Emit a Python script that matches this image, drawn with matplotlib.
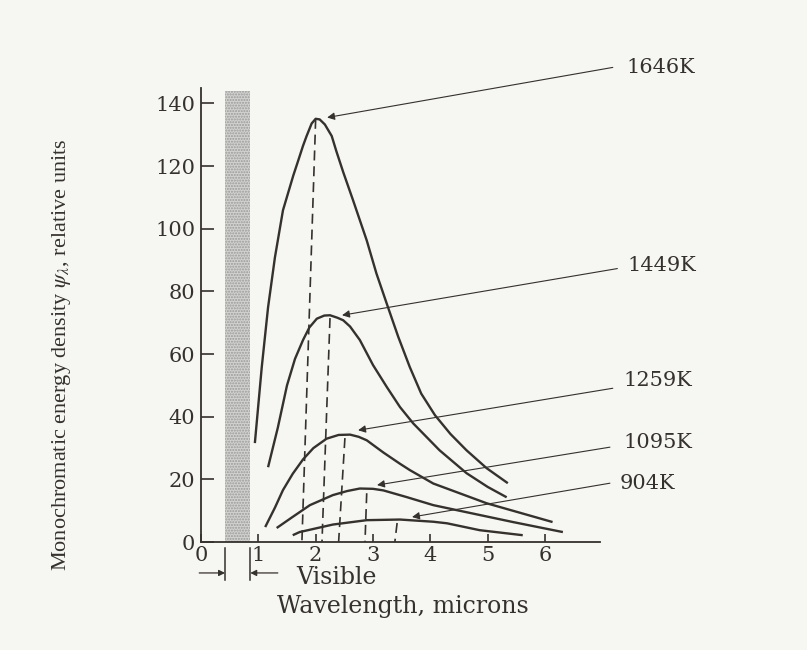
import matplotlib.pyplot as plt
import matplotlib.transforms as mtransforms

plt.rcParams["mathtext.fontset"] = "stix"

# curves (wavelength in microns, relative energy density)
temps = ["1646K", "1449K", "1259K", "1095K", "904K"]

x_1646 = [0.94, 1.06, 1.17, 1.29, 1.43, 1.61, 1.70, 1.78, 1.84, 1.93, 2.00, 2.07,
          2.16, 2.28, 2.36, 2.48, 2.65, 2.89, 3.06, 3.26, 3.44, 3.64, 3.84, 4.08,
          4.35, 4.63, 4.98, 5.35]
y_1646 = [31.6, 55.8, 74.9, 90.9, 105.9, 117.0, 122.0, 126.5, 129.5, 133.6, 135.1, 134.9,
          133.3, 129.6, 124.8, 118.1, 109.2, 96.3, 85.7, 75.0, 65.5, 55.9, 47.4, 40.5,
          34.5, 29.3, 23.6, 18.8]

x_1449 = [1.17, 1.34, 1.50, 1.64, 1.78, 1.89, 2.02, 2.15, 2.25, 2.38, 2.48, 2.60,
          2.77, 3.00, 3.24, 3.47, 3.70, 4.16, 4.63, 5.00, 5.33]
y_1449 = [23.9, 36.5, 50.0, 58.5, 64.5, 68.5, 71.3, 72.3, 72.4, 71.6, 70.8, 68.8,
          64.5, 56.5, 49.5, 43.1, 37.9, 29.3, 22.0, 17.6, 14.3]

x_1259 = [1.12, 1.29, 1.43, 1.60, 1.78, 1.96, 2.19, 2.40, 2.60, 2.75, 2.89, 3.18,
          3.47, 3.64, 4.05, 4.98, 6.13]
y_1259 = [4.8, 11.0, 16.6, 21.8, 26.4, 30.0, 33.0, 34.2, 34.3, 33.6, 32.5, 28.6,
          25.0, 23.0, 18.7, 12.4, 6.4]

x_1095 = [1.32, 1.58, 1.90, 2.30, 2.55, 2.77, 3.00, 3.18, 3.58, 4.05, 4.46, 5.44, 6.31]
y_1095 = [4.5, 7.8, 11.8, 15.0, 16.3, 17.1, 17.0, 16.5, 14.4, 11.8, 10.2, 6.4, 3.2]

x_904 = [1.60, 1.72, 2.13, 2.30, 2.89, 3.47, 4.05, 4.29, 4.86, 5.61]
y_904 = [2.2, 3.2, 4.9, 5.6, 7.0, 7.2, 6.5, 6.0, 3.8, 2.2]

# dashed drop lines: top point near each peak, foot on the axis
drop_top_x = [2.00, 2.25, 2.51, 2.89, 3.42]
drop_top_y = [135.1, 71.5, 33.2, 15.6, 6.1]
drop_foot_x = [1.76, 2.11, 2.40, 2.86, 3.38]

# label leaders: arrow head on the curve, tail at the label
head_x = [2.20, 2.46, 2.74, 3.07, 3.68]
head_y = [135.5, 72.4, 35.7, 18.2, 8.0]
tail_x = [7.18, 7.26, 7.18, 7.13, 7.13]
tail_y = [151.5, 87.3, 49.1, 30.3, 18.8]
label_x = [7.42, 7.44, 7.37, 7.37, 7.30]
label_y = [151.5, 88.3, 51.7, 31.9, 18.8]

visible = (0.42, 0.86)
yticks = [0, 20, 40, 60, 80, 100, 120, 140]
xticks = [0, 1, 2, 3, 4, 5, 6]

ink = "#35312d"
paper = "#f6f6f3"

fig = plt.figure(figsize=(8.07, 6.5), dpi=100, facecolor=paper)
ax = fig.add_axes([0.249, 0.166, 0.494, 0.698])
ax.set_facecolor(paper)

ax.axvspan(visible[0], visible[1], ymin=0, ymax=0.995, facecolor="#d2d2d0",
           edgecolor="#9a9a98", hatch="......", linewidth=0, zorder=0)

for xs, ys in [(x_1646, y_1646), (x_1449, y_1449), (x_1259, y_1259),
               (x_1095, y_1095), (x_904, y_904)]:
    ax.plot(xs, ys, color=ink, lw=1.7, solid_joinstyle="round",
            solid_capstyle="butt", zorder=3)

for xt, yt, xf in zip(drop_top_x, drop_top_y, drop_foot_x):
    ax.plot([xt, xf], [yt, 0], color=ink, lw=1.2, dashes=(6, 3.5), zorder=2)

for i, name in enumerate(temps):
    ax.annotate("", xy=(head_x[i], head_y[i]), xytext=(tail_x[i], tail_y[i]),
                arrowprops=dict(arrowstyle="-|>", color=ink, lw=0.8,
                                mutation_scale=11, shrinkA=0, shrinkB=0),
                annotation_clip=False)
    ax.text(label_x[i], label_y[i], name, ha="left", va="center",
            fontsize=15, family="DejaVu Serif", color=ink, clip_on=False)

ax.set_xlim(0, 6.95)
ax.set_ylim(0, 144.8)
ax.set_xticks(xticks)
ax.set_yticks(yticks)
ax.set_xticklabels([str(v) for v in xticks], family="DejaVu Serif", fontsize=15, color=ink)
ax.set_yticklabels([str(v) for v in yticks], family="DejaVu Serif", fontsize=15, color=ink)
ax.tick_params(axis="y", direction="in", length=9, width=1.2, pad=4, colors=ink)
ax.tick_params(axis="x", direction="in", length=6, width=1.2, pad=3, colors=ink)
for side in ["top", "right"]:
    ax.spines[side].set_visible(False)
for side in ["left", "bottom"]:
    ax.spines[side].set_linewidth(1.3)
    ax.spines[side].set_color(ink)

ax.set_ylabel(r"Monochromatic energy density $\psi_\lambda$, relative units",
              family="Liberation Serif", fontsize=16, color=ink)
ax.yaxis.set_label_coords(-0.32, 0.414)

# visible band marker below the axis
trans = mtransforms.blended_transform_factory(ax.transData, ax.transAxes)
for xv in visible:
    ax.plot([xv, xv], [-0.013, -0.084], color=ink, lw=1.1, transform=trans, clip_on=False)
ax.annotate("", xy=(visible[0], -0.068), xytext=(-0.03, -0.068), xycoords=trans,
            textcoords=trans, arrowprops=dict(arrowstyle="-|>", color=ink, lw=0.9,
                                              mutation_scale=9, shrinkA=0, shrinkB=0))
ax.annotate("", xy=(visible[1], -0.068), xytext=(1.34, -0.068), xycoords=trans,
            textcoords=trans, arrowprops=dict(arrowstyle="-|>", color=ink, lw=0.9,
                                              mutation_scale=9, shrinkA=0, shrinkB=0))
ax.text(1.67, -0.077, "Visible", transform=trans, ha="left", va="center",
        family="DejaVu Serif", fontsize=17, color=ink)
ax.text(0.506, -0.143, "Wavelength, microns", transform=ax.transAxes, ha="center",
        va="center", family="DejaVu Serif", fontsize=17, color=ink)

fig.savefig("out.png", dpi=100, facecolor=paper)
